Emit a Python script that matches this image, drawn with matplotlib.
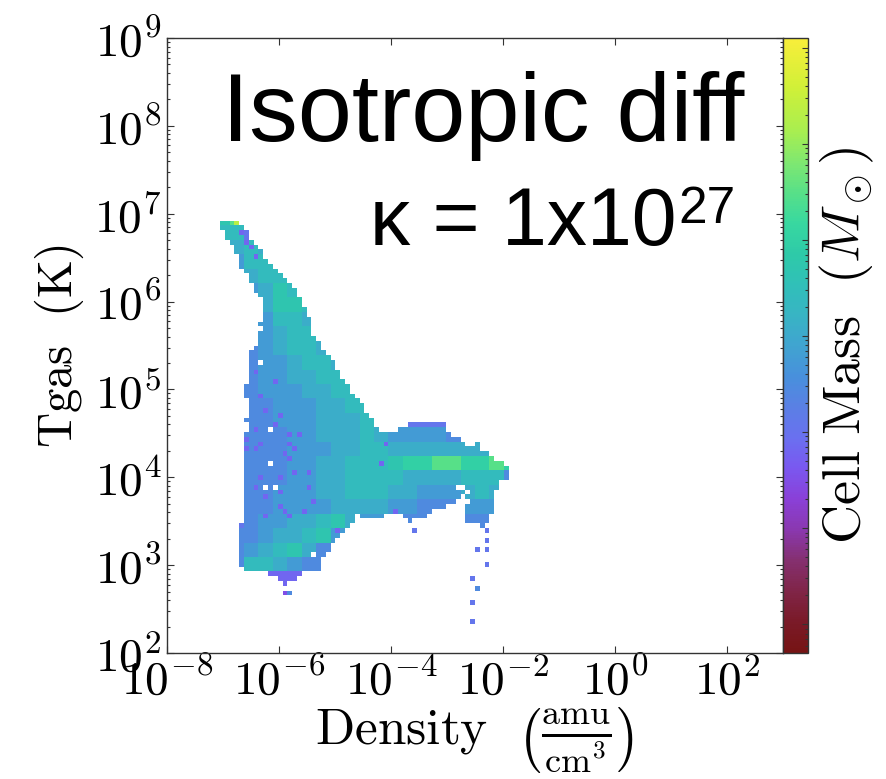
import numpy as np
import matplotlib
matplotlib.use("Agg")
import matplotlib.pyplot as plt
from matplotlib.colors import LinearSegmentedColormap, LogNorm
from matplotlib.path import Path
from matplotlib.ticker import FixedLocator, LogLocator, NullFormatter, FuncFormatter, NullLocator

plt.rcParams['mathtext.fontset'] = 'cm'

# ---------------- data ----------------
X_LOG_RANGE = (-8.0, 3.0)      # log10 density (amu/cm^3)
Y_LOG_RANGE = (2.0, 9.0)       # log10 temperature (K)
N_BINS = 128
CBAR_LOG_RANGE = (-3.3, 3.1)   # log10 cell mass (Msun)

XTICKS = [1e-8, 1e-6, 1e-4, 1e-2, 1e0, 1e2]
YTICKS = [1e2, 1e3, 1e4, 1e5, 1e6, 1e7, 1e8, 1e9]

# outline of the occupied region of the phase diagram (log10 rho, log10 T)
OUTLINE_LOG_RHO = [-7.02, -6.71, -6.64, -6.55, -6.46, -6.37, -6.29, -6.20, -6.07, -5.95,
                   -5.84, -5.71, -5.63, -5.54, -5.45, -5.38, -5.23, -5.09, -4.98, -4.88,
                   -4.77, -4.64, -4.52, -4.41, -4.30, -4.23, -4.02, -3.89, -3.66, -3.02,
                   -3.00, -2.86, -2.73, -2.59, -2.36, -2.23, -2.11, -2.00, -1.89, -1.89,
                   -2.07, -2.11, -2.16, -2.16, -2.25, -2.25, -2.41, -2.63, -2.64, -2.59,
                   -2.73, -2.86, -2.89, -3.04, -3.27, -3.32, -3.39, -3.71, -3.77, -3.84,
                   -4.14, -4.14, -4.52, -4.59, -4.68, -4.77, -4.86, -4.91, -5.02, -5.11,
                   -5.20, -5.25, -5.21, -5.34, -5.63, -5.68, -6.04, -6.07, -6.30, -6.48,
                   -6.64, -6.73, -6.75, -6.66, -6.59, -6.59, -6.66, -6.66, -6.59, -6.59,
                   -6.50, -6.50, -6.59, -6.59, -6.50, -6.50, -6.41, -6.41, -6.32, -6.32,
                   -6.41, -6.50, -6.59, -6.68, -6.75, -6.84, -6.93, -7.02]
OUTLINE_LOG_T = [6.93, 6.93, 6.86, 6.77, 6.69, 6.61, 6.55, 6.45, 6.38, 6.30,
                 6.22, 6.13, 6.02, 5.90, 5.79, 5.61, 5.49, 5.37, 5.27, 5.15,
                 5.04, 4.93, 4.82, 4.72, 4.63, 4.52, 4.49, 4.54, 4.60, 4.60,
                 4.50, 4.47, 4.40, 4.36, 4.32, 4.27, 4.20, 4.15, 4.14, 3.99,
                 3.97, 3.88, 3.82, 3.60, 3.56, 3.49, 3.49, 3.50, 3.68, 3.76,
                 3.79, 3.76, 3.71, 3.66, 3.63, 3.57, 3.51, 3.50, 3.59, 3.59,
                 3.59, 3.51, 3.51, 3.57, 3.51, 3.45, 3.39, 3.32, 3.25, 3.17,
                 3.10, 3.04, 2.97, 2.92, 2.91, 2.83, 2.83, 2.89, 2.92, 2.93,
                 2.97, 3.04, 3.38, 3.49, 3.56, 3.74, 3.78, 3.86, 3.90, 4.50,
                 4.54, 4.83, 4.88, 5.04, 5.06, 5.45, 5.49, 5.63, 5.65, 6.02,
                 6.11, 6.21, 6.31, 6.40, 6.52, 6.63, 6.73, 6.81]

# isolated occupied cells outside the outline
ISOLATED_LOG_RHO = [-6.62, -6.62, -6.36, -6.09, -5.91, -5.91, -5.82, -3.59, -2.50, -2.38,
                    -2.32, -2.32, -2.50, -2.32, -2.32, -2.57, -2.50, -2.57, -2.57]
ISOLATED_LOG_T = [4.63, 4.17, 5.77, 2.91, 2.80, 2.69, 2.69, 3.41, 4.40, 3.46,
                  3.40, 3.30, 3.20, 3.20, 3.02, 2.87, 2.75, 2.59, 2.36]

# empty cells inside the outline
HOLE_LOG_RHO = [-6.11, -6.18, -6.20, -6.36, -6.05, -2.82, -2.61, -2.73, -5.41]
HOLE_LOG_T = [4.56, 4.17, 3.89, 5.31, 3.90, 3.87, 3.84, 3.86, 3.14]

# low-mass (violet) cells
SPECK_LOG_RHO = [-6.04, -6.38, -5.84, -6.29, -6.43, -5.93, -5.68, -5.50, -6.02, -6.38,
                 -6.02, -6.02, -6.21, -5.77, -5.59, -5.36, -4.11, -4.14, -3.88, -6.64,
                 -6.37, -6.12, -5.84, -5.98, -5.68, -4.98, -6.13, -6.02, -6.73, -6.73,
                 -6.66, -6.59, -6.59, -6.55, -6.46, -6.20, -5.95, -5.80, -6.30, -6.10,
                 -5.60, -5.45, -6.45, -6.35, -5.90, -6.25]
SPECK_LOG_T = [4.62, 4.56, 4.50, 4.39, 4.30, 4.29, 4.34, 4.06, 4.00, 3.89,
               3.83, 3.68, 3.57, 3.54, 3.63, 3.74, 4.39, 4.17, 3.63, 6.79,
               6.53, 4.54, 4.40, 3.97, 4.06, 3.37, 2.92, 2.87, 3.30, 3.16,
               3.82, 4.42, 4.30, 6.70, 6.60, 4.75, 4.68, 4.20, 4.95, 5.10,
               4.50, 3.90, 5.20, 4.00, 3.60, 3.75]
SPECK_LEVEL = '1'

# high-mass cells
BRIGHT_LOG_RHO = [-6.79, -6.88, -2.00]
BRIGHT_LOG_T = [6.91, 6.91, 4.11]
BRIGHT_LEVEL = ['Y', '9', '9']

# coarse mass-level map (rows from high T to low T)
LEVEL_MAP = [
    "77...................",
    "662..................",
    "5565.................",
    "44665................",
    ".45665...............",
    "..4576...............",
    "..45776..............",
    "..34665..............",
    "..345665.............",
    "..345665.............",
    "..3445665............",
    "..34455665...........",
    "..34445566...........",
    "..334445566..........",
    "..33444555663222.....",
    "..3334455565444433...",
    "..33344455665555555..",
    "..3334455666788998898",
    "..333445566665555666.",
    "..334445566655444565.",
    "..334444555544333444.",
    ".234455675443333333..",
    ".33455674....2...22..",
    ".3456753.........22..",
    ".366543...........2..",
    "...2111..........2...",
    "....0............2...",
    ".................2...",
    ".................2...",
]
LEVEL_MAP_X0 = -7.1406
LEVEL_MAP_DX = 0.2578
LEVEL_MAP_Y0 = 2.2734
LEVEL_MAP_DY = 0.1641
LEVEL_LOG_MASS = {'0': -1.50, '1': -1.19, '2': -0.93, '3': -0.55, '4': -0.23,
                  '5': 0.09, '6': 0.41, '7': 0.70, '8': 1.00, '9': 1.50, 'Y': 2.33}
FALLBACK_LEVEL = '3'

# colormap (yt "algae"-like)
CMAP_POS = [0.0, 0.05, 0.10, 0.15, 0.20, 0.25, 0.30, 0.35, 0.40, 0.45,
            0.50, 0.55, 0.60, 0.65, 0.70, 0.75, 0.80, 0.85, 0.92, 1.0]
CMAP_COLORS = ['#761414', '#7a1a28', '#802548', '#853070', '#8a38b0', '#8a40d8',
               '#7a58f0', '#6a70f0', '#5a80e4', '#4890dc', '#40a4d0', '#38b4c4',
               '#30c0b8', '#2ecaa8', '#38d8a0', '#58e088', '#80e870', '#a8ee50',
               '#d0f038', '#f8ee3a']

# ---------------- build histogram ----------------
lx_edges = np.linspace(X_LOG_RANGE[0], X_LOG_RANGE[1], N_BINS + 1)
ly_edges = np.linspace(Y_LOG_RANGE[0], Y_LOG_RANGE[1], N_BINS + 1)
dlx = lx_edges[1] - lx_edges[0]
dly = ly_edges[1] - ly_edges[0]
lxc = 0.5 * (lx_edges[:-1] + lx_edges[1:])
lyc = 0.5 * (ly_edges[:-1] + ly_edges[1:])
LX, LY = np.meshgrid(lxc, lyc)

path = Path(np.column_stack([OUTLINE_LOG_RHO, OUTLINE_LOG_T]))
inside = path.contains_points(np.column_stack([LX.ravel(), LY.ravel()])).reshape(LX.shape)


def bin_index(lx, ly):
    i = int(np.floor((lx - X_LOG_RANGE[0]) / dlx))
    j = int(np.floor((ly - Y_LOG_RANGE[0]) / dly))
    return j, i


for lx, ly in zip(ISOLATED_LOG_RHO, ISOLATED_LOG_T):
    inside[bin_index(lx, ly)] = True
for lx, ly in zip(HOLE_LOG_RHO, HOLE_LOG_T):
    inside[bin_index(lx, ly)] = False

rows_bottom_up = LEVEL_MAP[::-1]


def level_at(lx, ly):
    c = int(np.floor((lx - LEVEL_MAP_X0) / LEVEL_MAP_DX))
    r = int(np.floor((ly - LEVEL_MAP_Y0) / LEVEL_MAP_DY))
    if 0 <= r < len(rows_bottom_up) and 0 <= c < len(rows_bottom_up[r]):
        ch = rows_bottom_up[r][c]
        if ch != '.':
            return ch
    return FALLBACK_LEVEL


mass = np.full(LX.shape, np.nan)
for j, i in zip(*np.nonzero(inside)):
    mass[j, i] = 10 ** LEVEL_LOG_MASS[level_at(lxc[i], lyc[j])]
for lx, ly in zip(SPECK_LOG_RHO, SPECK_LOG_T):
    idx = bin_index(lx, ly)
    if inside[idx]:
        mass[idx] = 10 ** LEVEL_LOG_MASS[SPECK_LEVEL]
for lx, ly, lev in zip(BRIGHT_LOG_RHO, BRIGHT_LOG_T, BRIGHT_LEVEL):
    idx = bin_index(lx, ly)
    if inside[idx]:
        mass[idx] = 10 ** LEVEL_LOG_MASS[lev]

# ---------------- plot ----------------
cmap = LinearSegmentedColormap.from_list('algae_like', list(zip(CMAP_POS, CMAP_COLORS)))
norm = LogNorm(vmin=10 ** CBAR_LOG_RANGE[0], vmax=10 ** CBAR_LOG_RANGE[1])

fig = plt.figure(figsize=(8.87, 7.79), dpi=100)
ax = fig.add_axes([0.1883, 0.1617, 0.6945, 0.7895])
mesh = ax.pcolormesh(10 ** lx_edges, 10 ** ly_edges, np.ma.masked_invalid(mass),
                     cmap=cmap, norm=norm, shading='flat')
ax.set_xscale('log')
ax.set_yscale('log')
ax.set_xlim(10 ** X_LOG_RANGE[0], 10 ** X_LOG_RANGE[1])
ax.set_ylim(10 ** Y_LOG_RANGE[0], 10 ** Y_LOG_RANGE[1])

fmt = FuncFormatter(lambda v, p: r"$10^{%d}$" % int(round(np.log10(v))))
ax.xaxis.set_major_locator(FixedLocator(XTICKS))
ax.xaxis.set_minor_locator(NullLocator())
ax.xaxis.set_major_formatter(fmt)
ax.yaxis.set_major_locator(FixedLocator(YTICKS))
ax.yaxis.set_minor_locator(LogLocator(base=10, subs=np.arange(2, 10), numticks=100))
ax.yaxis.set_minor_formatter(NullFormatter())
ax.yaxis.set_major_formatter(fmt)
ax.tick_params(which='both', direction='in', top=True, right=True, labelsize=34,
               color='#333333', width=0.8)
ax.tick_params(which='major', length=5, pad=4)
ax.tick_params(which='minor', length=2.5)
for s in ax.spines.values():
    s.set_color('#333333')
    s.set_linewidth(1.0)

ax.set_xlabel(r"$\mathrm{Density}\ \ \left(\frac{\mathrm{amu}}{\mathrm{cm}^{3}}\right)$",
              fontsize=37, labelpad=0)
ax.set_ylabel(r"$\mathrm{Tgas}\ \ (\mathrm{K})$", fontsize=35, labelpad=6)

cax = fig.add_axes([0.8828, 0.1617, 0.0282, 0.7895])
cb = fig.colorbar(mesh, cax=cax)
cb.outline.set_edgecolor('#333333')
cb.outline.set_linewidth(1.0)
cax.yaxis.set_major_locator(LogLocator(base=10, numticks=20))
cax.yaxis.set_minor_locator(LogLocator(base=10, subs=np.arange(2, 10), numticks=100))
cax.tick_params(which='both', direction='in', labelright=False, right=True, left=False,
                color='#333333', width=0.8)
cax.tick_params(which='major', length=4)
cax.tick_params(which='minor', length=2)
cb.set_label(r"$\mathrm{Cell\ Mass}\ \ (M_\odot)$", fontsize=39, labelpad=7)

ax.text(0.938, 0.8325, "Isotropic diff", transform=ax.transAxes, ha='right',
        va='baseline', fontsize=70, family='Liberation Sans')
t1 = ax.text(0.3295, 0.663, "κ = 1x10", transform=ax.transAxes, ha='left',
             va='baseline', fontsize=58, family='Liberation Sans')
fig.canvas.draw()
bb = t1.get_window_extent(renderer=fig.canvas.get_renderer())
base_disp = ax.transAxes.transform((0.3295, 0.663))
fig.text(bb.x1 + 2, base_disp[1] + 22, "27", transform=None, ha='left',
         va='baseline', fontsize=37, family='Liberation Sans')

fig.savefig('out.png', dpi=100)
